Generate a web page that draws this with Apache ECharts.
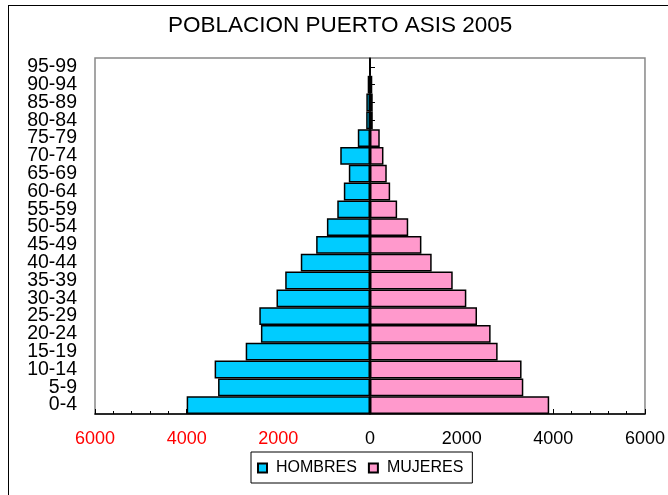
<!DOCTYPE html>
<html>
<head>
<meta charset="utf-8">
<script src="https://cdn.jsdelivr.net/npm/echarts@6/dist/echarts.min.js"></script>
<style>
html,body{margin:0;padding:0;background:#fff;}
#chart{width:668px;height:495px;}
#frame{position:absolute;left:8px;top:5px;width:700px;height:600px;border-left:1.5px solid #000;border-top:1.5px solid #000;pointer-events:none;}
</style>
</head>
<body>
<div id="chart"></div>
<div id="frame"></div>
<script>
const categories = ['0-4','5-9','10-14','15-19','20-24','25-29','30-34','35-39','40-44','45-49','50-54','55-59','60-64','65-69','70-74','75-79','80-84','85-89','90-94','95-99'];
const hombres = [4000, 3315, 3390, 2712, 2380, 2415, 2040, 1850, 1510, 1175, 940, 714, 571, 462, 649, 266, 83, 80, 50, 8];
const mujeres = [3910, 3345, 3307, 2785, 2632, 2335, 2102, 1805, 1346, 1122, 834, 592, 440, 366, 294, 213, 61, 60, 50, 8];
const xTicks = { min: -6000, max: 6000, interval: 2000 };

const chart = echarts.init(document.getElementById('chart'), null, { renderer: 'canvas' });
const font = 'Liberation Sans, Arial, sans-serif';
chart.setOption({
  animation: false,
  backgroundColor: '#fff',
  title: {
    text: 'POBLACION PUERTO ASIS 2005',
    left: 163, top: 9,
    textStyle: { fontFamily: font, fontSize: 22.5, fontWeight: 'normal', color: '#000' }
  },
  legend: {
    left: 251, top: 452,
    data: ['HOMBRES', 'MUJERES'],
    icon: 'rect',
    itemWidth: 9, itemHeight: 9, itemGap: 11,
    borderColor: '#000', borderWidth: 1,
    padding: [8, 9, 7, 6],
    textStyle: { fontFamily: font, fontSize: 16, color: '#000', padding: [0, 0, 0, 4] }
  },
  grid: {
    left: 95, right: 22, top: 58, bottom: 81,
    show: true, borderColor: '#888', borderWidth: 1.5, backgroundColor: '#fff'
  },
  xAxis: {
    type: 'value',
    min: xTicks.min, max: xTicks.max, interval: xTicks.interval,
    axisLine: { show: true, onZero: false, lineStyle: { color: '#000', width: 1.5 } },
    axisTick: { show: true, inside: true, length: 5, lineStyle: { color: '#000' } },
    minorTick: { show: true, splitNumber: 5, length: 3, lineStyle: { color: '#000' } },
    splitLine: { show: false },
    axisLabel: {
      margin: 16,
      fontFamily: font, fontSize: 18,
      formatter: v => String(Math.abs(v)),
      color: v => (Number(v) < 0 ? '#FF0000' : '#000')
    }
  },
  yAxis: [
    {
      type: 'category', data: categories, position: 'left',
      axisLine: { show: false, onZero: false },
      axisTick: { show: false },
      axisLabel: { interval: 0, margin: 18, fontFamily: font, fontSize: 19.5, color: '#000', lineHeight: 17 }
    },
    {
      type: 'category', data: categories, position: 'left',
      axisLine: { show: true, onZero: true, lineStyle: { color: '#000', width: 1.5 } },
      axisTick: { show: true, inside: true, alignWithLabel: true, length: 5, lineStyle: { color: '#000' } },
      axisLabel: { show: false }
    }
  ],
  series: [
    {
      name: 'HOMBRES', type: 'bar', stack: 'p', yAxisIndex: 0,
      barCategoryGap: '0%',
      data: hombres.map(v => -v),
      itemStyle: { color: '#00CCFF', borderColor: '#000', borderWidth: 1.5 }
    },
    {
      name: 'MUJERES', type: 'bar', stack: 'p', yAxisIndex: 0,
      barCategoryGap: '0%',
      data: mujeres,
      itemStyle: { color: '#FF99CC', borderColor: '#000', borderWidth: 1.5 }
    }
  ]
});
</script>
</body>
</html>
